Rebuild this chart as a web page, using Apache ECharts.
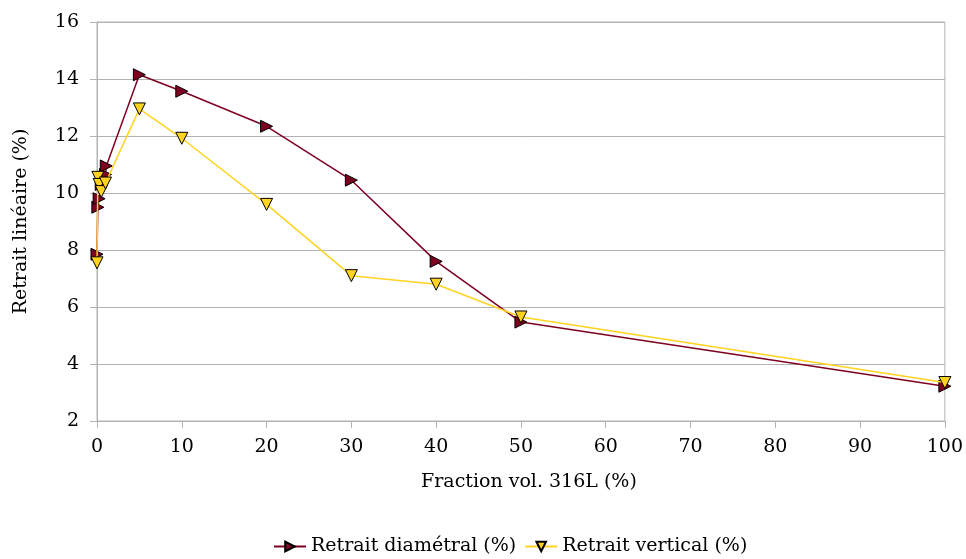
<!DOCTYPE html>
<html>
<head>
<meta charset="utf-8">
<script src="https://cdn.jsdelivr.net/npm/echarts@6/dist/echarts.min.js"></script>
<style>html,body{margin:0;padding:0;background:#fff}#c{width:966px;height:559px}</style>
</head>
<body>
<div id="c"></div>
<script>
var diamX = [0, 0.1, 0.25, 0.5, 1, 1.1, 5, 10, 20, 30, 40, 50, 100];
var diamY = [7.85, 9.5, 9.8, 10.3, 10.65, 10.95, 14.15, 13.57, 12.34, 10.45, 7.6, 5.47, 3.22];
var vertX = [0, 0.1, 0.25, 0.5, 1, 5, 10, 20, 30, 40, 50, 100];
var vertY = [7.55, 10.55, 10.3, 10.05, 10.35, 12.95, 11.92, 9.6, 7.1, 6.8, 5.65, 3.35];
var seriesNames = ['Retrait diamétral (%)', 'Retrait vertical (%)'];
var xTitle = 'Fraction vol. 316L (%)';
var yTitle = 'Retrait linéaire (%)';

function pairs(xs, ys) { return xs.map(function (x, i) { return [x, ys[i]]; }); }

var font = '"DejaVu Serif", "Liberation Serif", serif';
var fs = 19;
var chart = echarts.init(document.getElementById('c'));
chart.setOption({
  animation: false,
  textStyle: { fontFamily: font },
  grid: { left: 97, right: 20, top: 22, bottom: 138, show: true, borderColor: '#b3b3b3', borderWidth: 1 },
  xAxis: {
    type: 'value', min: 0, max: 100, interval: 10,
    name: xTitle, nameLocation: 'middle', nameGap: 52,
    nameTextStyle: { fontFamily: font, fontSize: fs, color: '#000', padding: [0, 0, 0, 16] },
    axisLine: { show: true, lineStyle: { color: '#b3b3b3' } },
    axisTick: { show: true, length: 7, lineStyle: { color: '#b3b3b3' } },
    axisLabel: { fontFamily: font, fontSize: fs, color: '#000', margin: 17 },
    splitLine: { show: false }
  },
  yAxis: {
    type: 'value', min: 2, max: 16, interval: 2,
    name: yTitle, nameLocation: 'middle', nameGap: 66, nameRotate: 90,
    nameTextStyle: { fontFamily: font, fontSize: fs, color: '#000' },
    axisLine: { show: true, lineStyle: { color: '#b3b3b3' } },
    axisTick: { show: true, length: 7, lineStyle: { color: '#b3b3b3' } },
    axisLabel: { fontFamily: font, fontSize: fs, color: '#000', margin: 18 },
    splitLine: { show: true, lineStyle: { color: '#b3b3b3', width: 1 } }
  },
  legend: {
    top: 532, left: 268, itemWidth: 32, itemHeight: 12, itemGap: 8,
    textStyle: { fontFamily: font, fontSize: fs, color: '#000' },
    data: seriesNames
  },
  series: [
    {
      name: seriesNames[0], type: 'line', data: pairs(diamX, diamY),
      symbol: 'triangle', symbolSize: 12, symbolRotate: -90,
      lineStyle: { color: '#7e0021', width: 1.5 },
      itemStyle: { color: '#7e0021', borderColor: '#000', borderWidth: 1 },
      z: 2
    },
    {
      name: seriesNames[1], type: 'line', data: pairs(vertX, vertY),
      symbol: 'triangle', symbolSize: 12, symbolRotate: 180,
      lineStyle: { color: '#ffd320', width: 1.5 },
      itemStyle: { color: '#ffd320', borderColor: '#000', borderWidth: 1 },
      z: 3
    }
  ]
});
</script>
</body>
</html>
